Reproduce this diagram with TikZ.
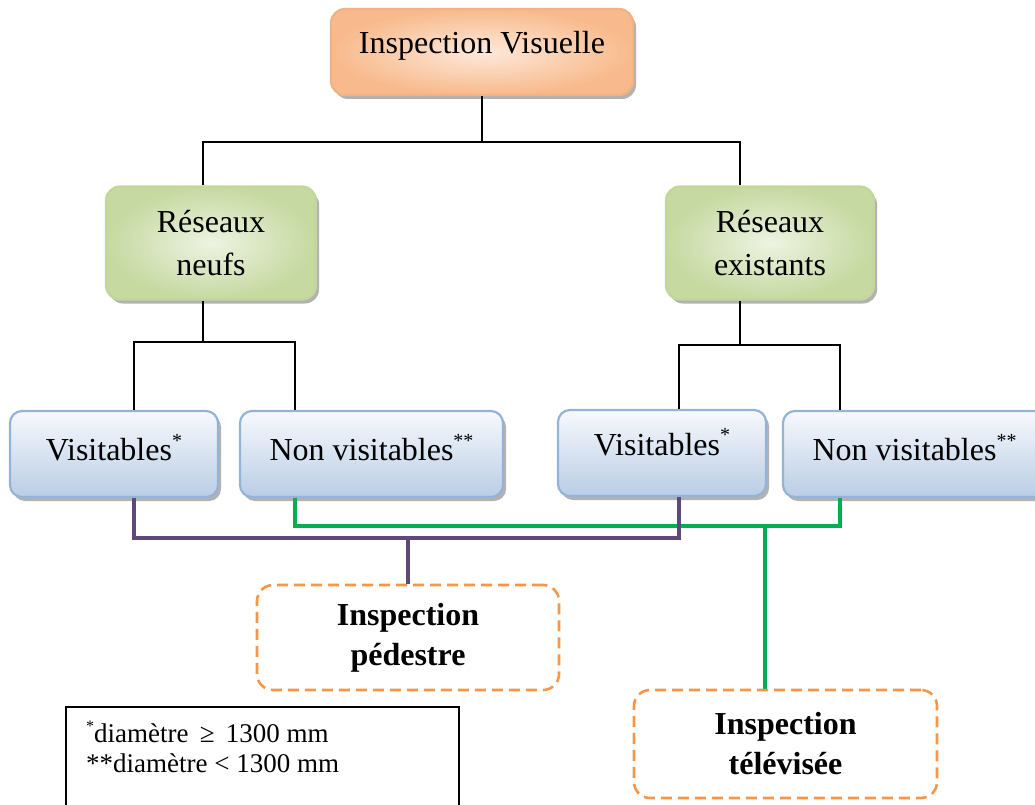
\documentclass[tikz,border=0pt]{standalone}
\usepackage{fontspec}
\setmainfont{Liberation Serif}
\usetikzlibrary{shadows}
\definecolor{orbd}{RGB}{244,177,131}
\definecolor{orout}{RGB}{248,186,140}
\definecolor{orin}{RGB}{253,233,219}
\definecolor{grbd}{RGB}{195,214,155}
\definecolor{grout}{RGB}{197,217,160}
\definecolor{grin}{RGB}{238,243,226}
\definecolor{blbd}{RGB}{149,179,215}
\definecolor{bltop}{RGB}{247,249,253}
\definecolor{blbot}{RGB}{185,205,229}
\definecolor{purp}{RGB}{95,73,122}
\definecolor{grn}{RGB}{0,176,80}
\definecolor{dash}{RGB}{247,150,70}
\newcommand\astx[1]{\raisebox{0.42em}{\fontsize{20}{20}\selectfont #1}}
\begin{document}
\begin{tikzpicture}[x=1pt,y=-1pt,
  boxbase/.style={rounded corners=14pt, line width=2.2pt, align=center, inner sep=0pt,
    font=\fontsize{32}{43}\selectfont,
    drop shadow={shadow xshift=3pt, shadow yshift=-4pt, fill=black!55, opacity=0.55}},
  orbox/.style={boxbase, draw=orbd, inner color=orin, outer color=orout},
  grbox/.style={boxbase, draw=grbd, inner color=grin, outer color=grout},
  blbox/.style={boxbase, rounded corners=12pt, draw=blbd, top color=bltop, bottom color=blbot, minimum height=86pt},
  dbox/.style={rounded corners=16pt, draw=dash, line width=2.6pt, dash pattern=on 11pt off 6pt,
    align=center, inner sep=0pt, font=\fontsize{32}{40}\selectfont\bfseries},
  blk/.style={line width=2pt, black},
  pline/.style={line width=3.5pt, purp},
  gline/.style={line width=3.5pt, grn}]
\useasboundingbox (0,0) rectangle (1035,805);

% boxes
\node[orbox, minimum width=302pt, minimum height=86pt] (iv) at (482,52) {\raisebox{19pt}{Inspection Visuelle}};
\node[grbox, minimum width=210pt, minimum height=113pt] (rn) at (211,243) {Réseaux\\neufs};
\node[grbox, minimum width=208pt, minimum height=113pt] (re) at (770,243) {Réseaux\\existants};
\node[blbox, minimum width=208pt] (v1) at (114,454) {\raisebox{13pt}{Visitables\astx{*}}};
\node[blbox, minimum width=263pt] (nv1) at (371.5,454) {\raisebox{13pt}{Non visitables\astx{**}}};
\node[blbox, minimum width=208pt] (v2) at (662,453) {\raisebox{22pt}{Visitables\astx{*}}};
\node[blbox, minimum width=263pt] (nv2) at (914.5,454) {\raisebox{13pt}{Non visitables\astx{**}}};
\node[dbox, minimum width=302pt, minimum height=105pt] (pd) at (408,637.5) {Inspection\\pédestre};
\node[dbox, minimum width=303pt, minimum height=108pt] (tv) at (785.5,744) {Inspection\\télévisée};

% legend
\node[draw, line width=2pt, anchor=north west, minimum width=393pt, minimum height=120pt, inner sep=0pt] (legend) at (65,706) {};
\node[anchor=base west, align=left, inner sep=0pt, font=\fontsize{27}{30}\selectfont] (legtext) at (86,772)
  {\raisebox{0.4em}{\fontsize{16}{16}\selectfont *}diamètre \,≥\, 1300 mm\\**diamètre < 1300 mm};

% junctions
\coordinate (j1) at (482,142);
\coordinate (j2) at (203,342);
\coordinate (j3) at (740,345);
\coordinate (jp) at (408,538);
\coordinate (jg) at (765,526);

% black tree
\draw[blk] (iv.south) -- (j1);
\draw[blk] ([xshift=-8pt]rn.north) |- (j1) -| ([xshift=-30pt]re.north);
\draw[blk] ([xshift=-8pt]rn.south) -- (j2);
\draw[blk] ([xshift=20pt]v1.north) |- (j2) -| ([xshift=-76.5pt]nv1.north);
\draw[blk] ([xshift=-30pt]re.south) -- (j3);
\draw[blk] ([xshift=17pt]v2.north) |- (j3) -| ([xshift=-74.5pt]nv2.north);

% green
\draw[gline] ([xshift=-76.5pt]nv1.south) |- (jg) -| ([xshift=-74.5pt]nv2.south);
\draw[gline] (jg) -- ([xshift=-20.5pt]tv.north);

% purple
\draw[pline] ([xshift=20pt]v1.south) |- (jp) -| ([xshift=17pt]v2.south);
\draw[pline] (jp) -- (pd.north);

% text position fine-tune for pedestre box (drawn over its centre)
\end{tikzpicture}
\end{document}
